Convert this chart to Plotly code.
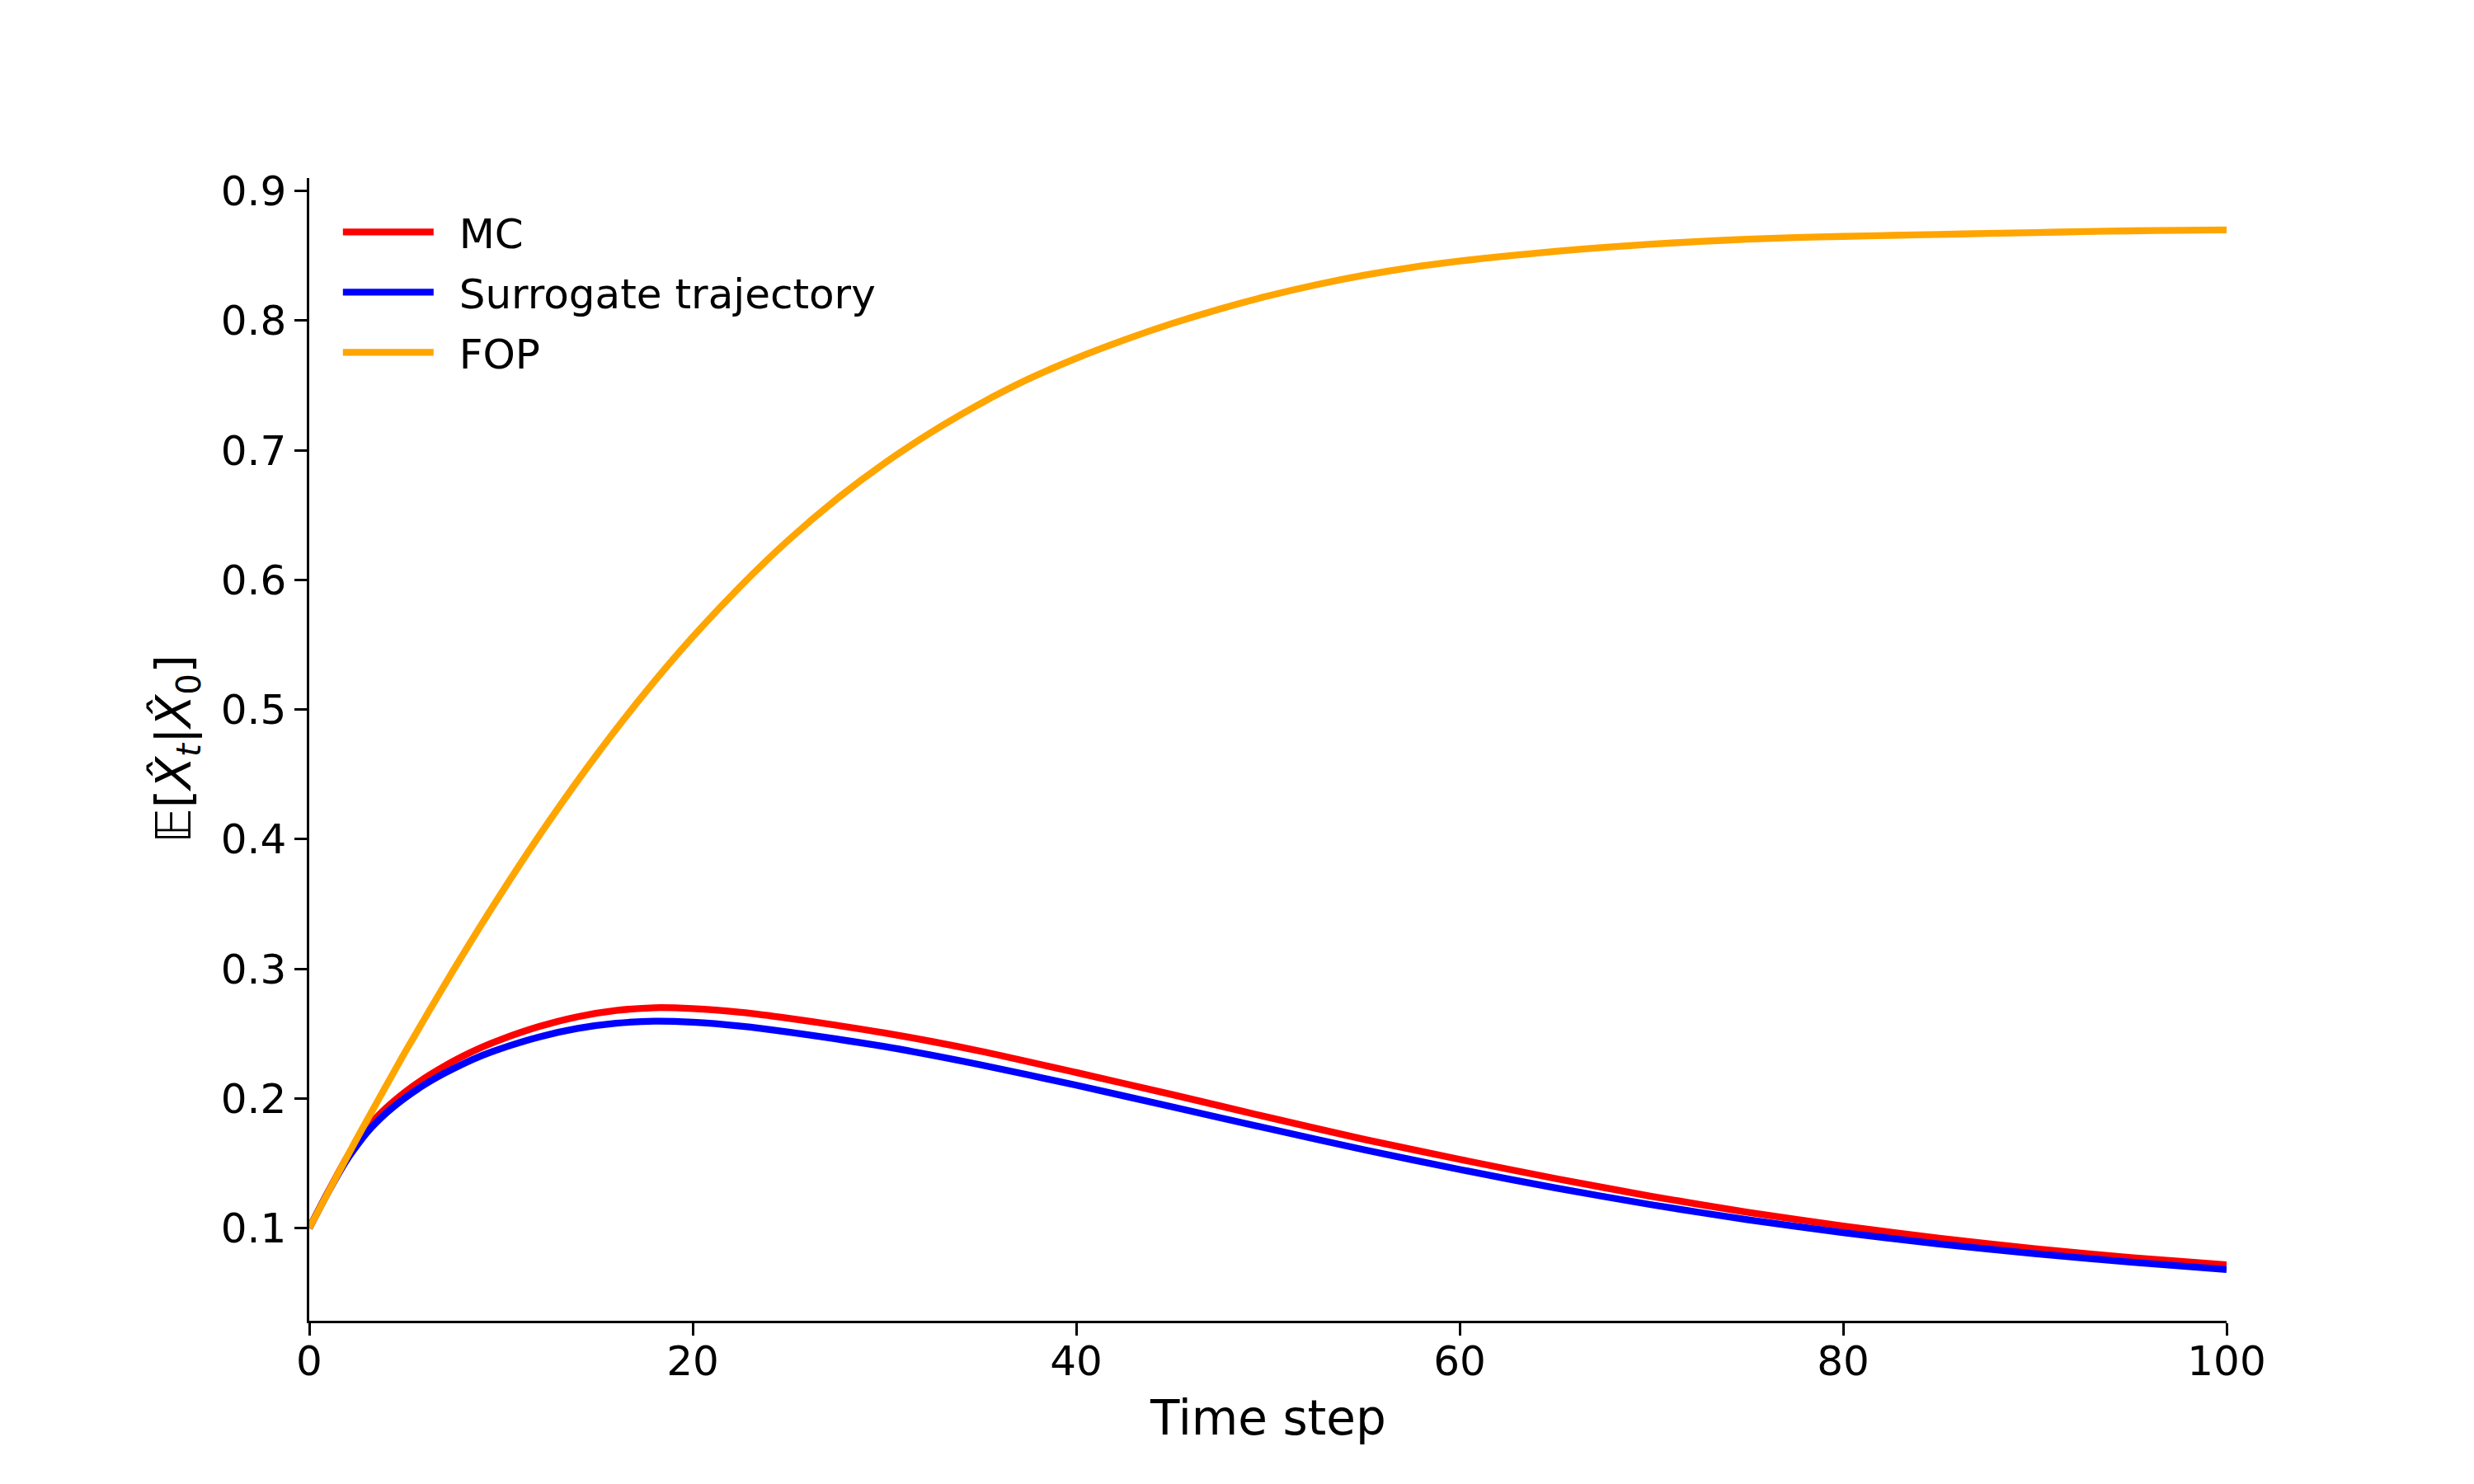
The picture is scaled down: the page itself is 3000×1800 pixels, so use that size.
import plotly.graph_objects as go

# ---- data ----
fop_t = [0, 2.5, 5, 7.5, 10, 12.5, 15, 17.5, 20, 22.5, 25, 27.5, 30, 32.5, 35, 37.5, 40,
         42.5, 45, 47.5, 50, 52.5, 55, 57.5, 60, 62.5, 65, 67.5, 70, 72.5, 75, 77.5, 80,
         82.5, 85, 87.5, 90, 92.5, 95, 97.5, 100]
fop_v = [0.1000, 0.1696, 0.2358, 0.2986, 0.3580, 0.4137, 0.4653, 0.5127, 0.5560,
         0.5953, 0.6308, 0.6623, 0.6900, 0.7144, 0.7360, 0.7549, 0.7710,
         0.7851, 0.7978, 0.8091, 0.8190, 0.8276, 0.8350, 0.8411, 0.8460,
         0.8500, 0.8535, 0.8565, 0.8590, 0.8611, 0.8628, 0.8641, 0.8650,
         0.8658, 0.8665, 0.8673, 0.8680, 0.8687, 0.8693, 0.8697, 0.8700]

mc_t = [0, 1, 2, 3, 4, 5, 6, 7, 8, 9, 10, 12, 14, 16, 18, 20, 22.5, 25, 30, 35, 40,
        45, 50, 55, 60, 65, 70, 75, 80, 85, 90, 95, 100]
mc_v = [0.1000, 0.1285, 0.1555, 0.1770, 0.1925, 0.2050, 0.2155, 0.2245, 0.2325,
        0.2395, 0.2455, 0.2555, 0.2630, 0.2678, 0.2700, 0.2693, 0.2664, 0.2618,
        0.2505, 0.2365, 0.2200, 0.2030, 0.1855, 0.1685, 0.1530, 0.1382, 0.1245,
        0.1122, 0.1015, 0.0922, 0.0840, 0.0773, 0.0716]

sur_t = [0, 1, 2, 3, 4, 5, 6, 7, 8, 9, 10, 12, 14, 16, 18, 20, 22.5, 25, 30, 35, 40,
         45, 50, 55, 60, 65, 70, 75, 80, 85, 90, 95, 100]
sur_v = [0.1000, 0.1280, 0.1535, 0.1735, 0.1885, 0.2005, 0.2105, 0.2190, 0.2265,
         0.2330, 0.2385, 0.2475, 0.2540, 0.2580, 0.2596, 0.2588, 0.2558, 0.2512,
         0.2400, 0.2260, 0.2102, 0.1935, 0.1768, 0.1605, 0.1452, 0.1310, 0.1180,
         0.1065, 0.0965, 0.0878, 0.0802, 0.0737, 0.0680]

series_names = ["MC", "Surrogate trajectory", "FOP"]
series_colors = ["#ff0000", "#0000ff", "#ffa500"]

x_ticks = [0, 20, 40, 60, 80, 100]
y_ticks = [0.1, 0.2, 0.3, 0.4, 0.5, 0.6, 0.7, 0.8, 0.9]
y_tick_text = ["0.1", "0.2", "0.3", "0.4", "0.5", "0.6", "0.7", "0.8", "0.9"]

FONT = "DejaVu Sans"
PAD = "\u00a0\u2009"  # small gap between legend line and label

fig = go.Figure()
for name, color, xs, ys in zip(series_names, series_colors,
                               [mc_t, sur_t, fop_t], [mc_v, sur_v, fop_v]):
    fig.add_trace(go.Scatter(x=xs, y=ys, mode="lines", name=PAD + name, legendgroup=name,
                             line=dict(color=color, width=8.3, shape="spline", smoothing=0.6)))

axis_common = dict(showgrid=False, zeroline=False, showline=True, linecolor="black",
                   linewidth=3.3, ticks="outside", ticklen=14.6, tickwidth=3.3,
                   tickcolor="black", mirror=False,
                   tickfont=dict(family=FONT, size=50, color="black"))

fig.update_xaxes(range=[0, 100], tickvals=x_ticks, ticktext=[str(v) for v in x_ticks],
                 ticklabelstandoff=-12, **axis_common)
fig.update_yaxes(range=[0.0285, 0.910], tickvals=y_ticks, ticktext=y_tick_text,
                 **axis_common)

fig.update_layout(
    width=3000, height=1800,
    margin=dict(l=367, r=308, t=208, b=206, autoexpand=False),
    plot_bgcolor="white", paper_bgcolor="white",
    font=dict(family=FONT, size=50, color="black"),
    showlegend=True,
    legend=dict(x=0.0154, y=0.981, xanchor="left", yanchor="top",
                bgcolor="rgba(0,0,0,0)", borderwidth=0,
                font=dict(family=FONT, size=50, color="black"),
                itemwidth=110, tracegroupgap=5, traceorder="grouped"),
    annotations=[
        dict(text="Time step", xref="paper", yref="paper", x=0.5, y=-0.085,
             xanchor="center", yanchor="middle", showarrow=False,
             font=dict(family=FONT, size=58, color="black")),
        dict(text="𝔼[<i>X̂</i><sub><i>t</i></sub>|<i>X̂</i><sub>0</sub>]",
             xref="paper", yref="paper", x=-0.069, y=0.5, textangle=-90,
             xanchor="center", yanchor="middle", showarrow=False,
             font=dict(family=FONT, size=58, color="black")),
    ],
)

fig.write_html("out.html")
